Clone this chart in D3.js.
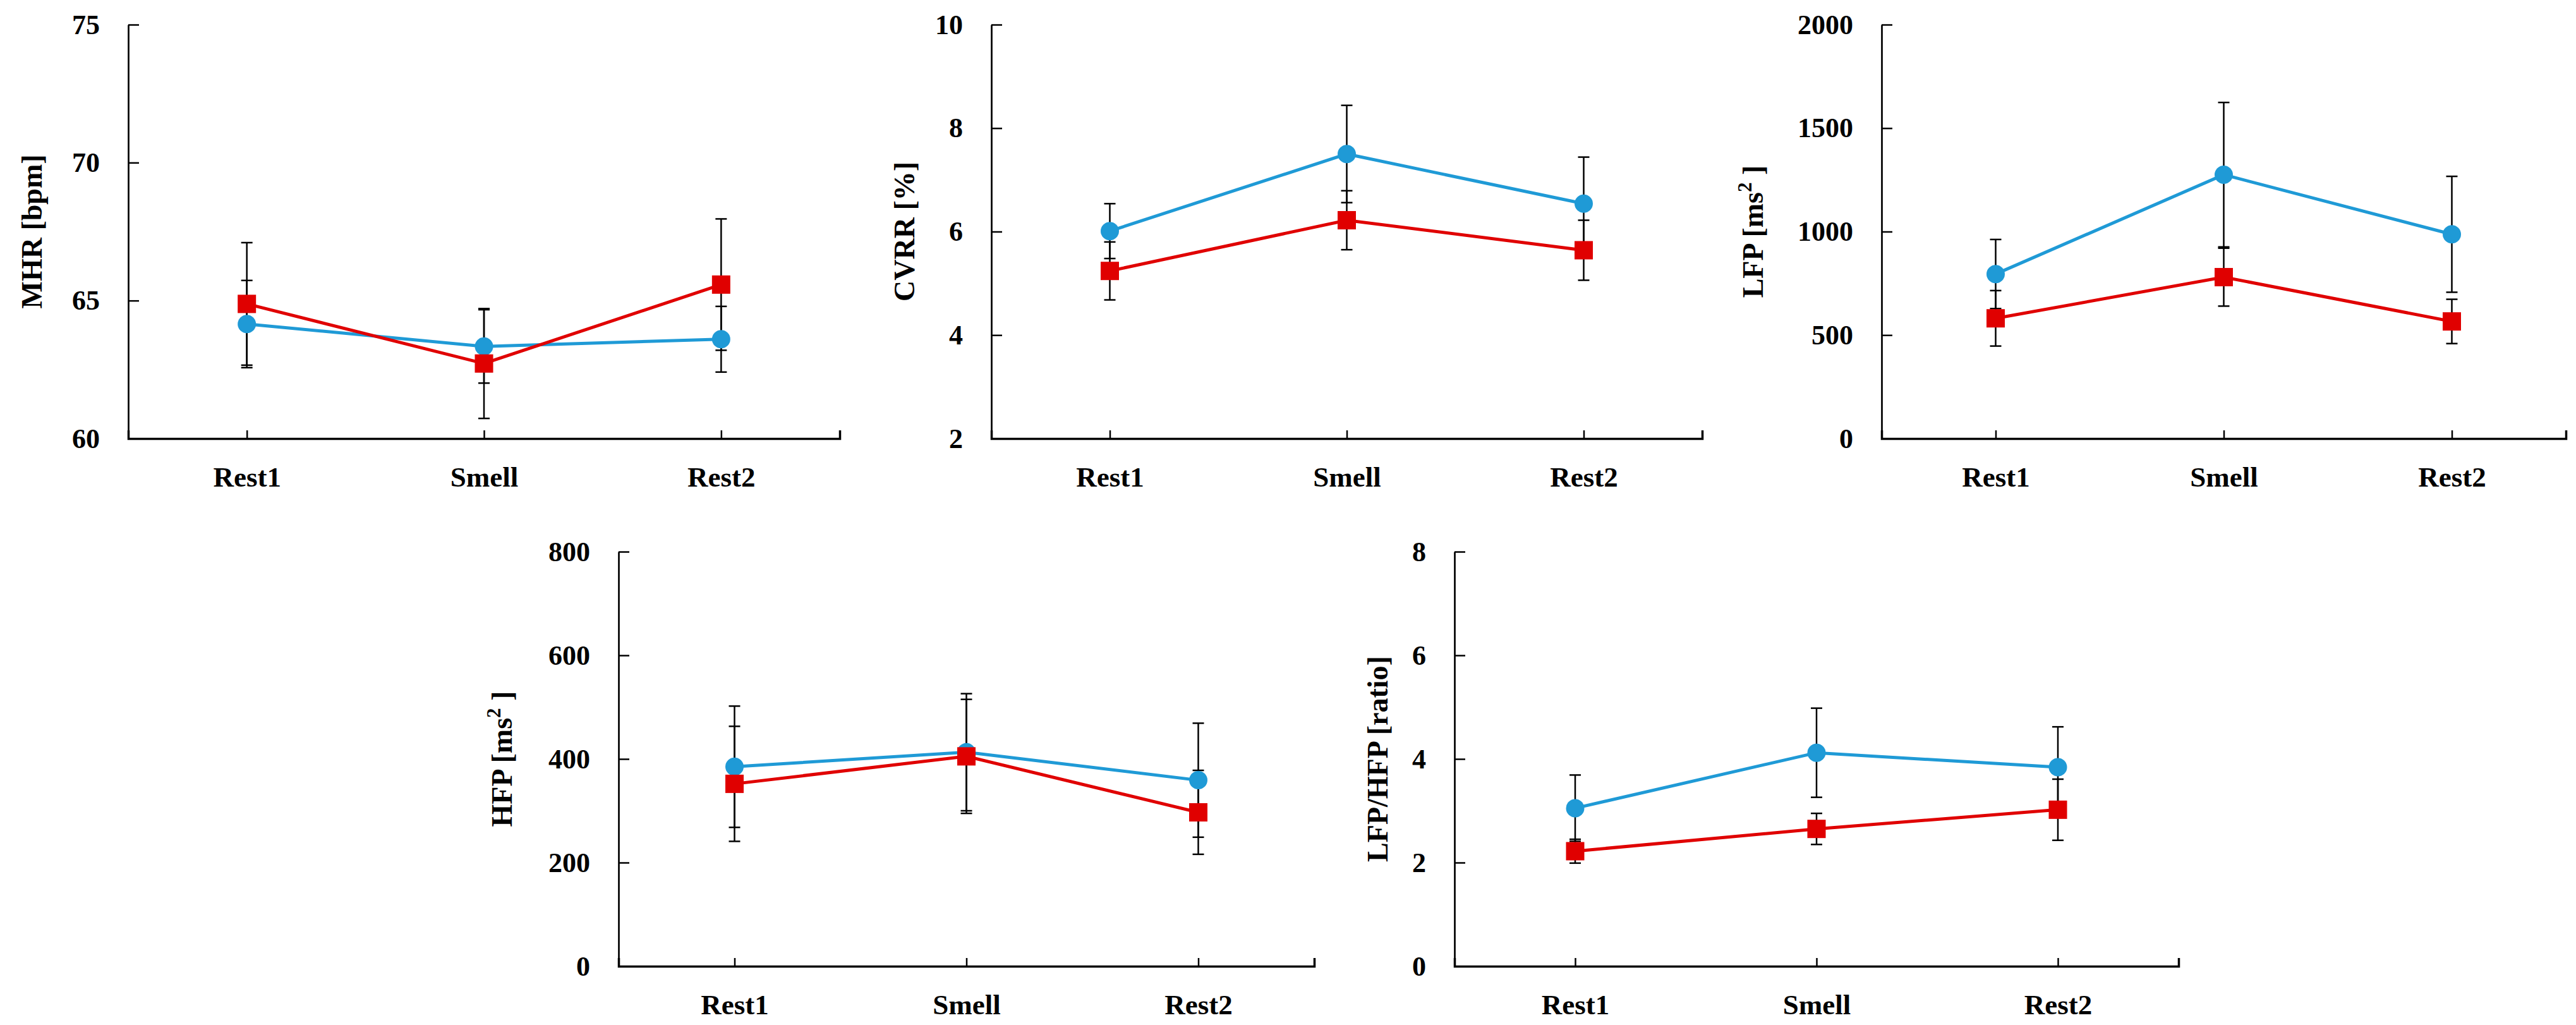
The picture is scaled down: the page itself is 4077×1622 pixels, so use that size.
<!DOCTYPE html>
<html>
<head>
<meta charset="utf-8">
<script src="https://cdn.jsdelivr.net/npm/d3@7"></script>
<style>
  body { margin: 0; background: #fff; }
  text { font-family: "Liberation Serif", "DejaVu Serif", serif; font-weight: bold; fill: #000; }
</style>
</head>
<body>
<div id="chart"></div>
<script>
// categories shared by every panel
var categories = ["Rest1", "Smell", "Rest2"];

// MHR [bpm]
var mhrBlue = [64.15, 63.34, 63.6];
var mhrBlueSd = [1.58, 1.33, 1.19];
var mhrRed = [64.88, 62.72, 65.58];
var mhrRedSd = [2.22, 1.99, 2.38];
var mhrTicks = [60, 65, 70, 75];

// CVRR [%]
var cvrrBlue = [6.01, 7.5, 6.54];
var cvrrBlueSd = [0.53, 0.94, 0.9];
var cvrrRed = [5.24, 6.22, 5.64];
var cvrrRedSd = [0.56, 0.57, 0.58];
var cvrrTicks = [2, 4, 6, 8, 10];

// LFP [ms2]
var lfpBlue = [795, 1275, 987];
var lfpBlueSd = [167, 349, 280];
var lfpRed = [581, 780, 566];
var lfpRedSd = [134, 140, 107];
var lfpTicks = [0, 500, 1000, 1500, 2000];

// HFP [ms2]
var hfpBlue = [385, 413, 359];
var hfpBlueSd = [117, 113, 110];
var hfpRed = [352, 405, 297];
var hfpRedSd = [111, 110, 81];
var hfpTicks = [0, 200, 400, 600, 800];

// LFP/HFP [ratio]
var ratioBlue = [3.05, 4.12, 3.84];
var ratioBlueSd = [0.64, 0.86, 0.78];
var ratioRed = [2.22, 2.65, 3.02];
var ratioRedSd = [0.23, 0.3, 0.59];
var ratioTicks = [0, 2, 4, 6, 8];

var BLUE = "#1f9ad6";
var RED = "#e00000";

var svg = d3.select("#chart").append("svg")
  .attr("width", 4077)
  .attr("height", 1622);

// layout of each panel (pixels)
var panels = [
  {title: "MHR [bpm]", sup: null, blue: mhrBlue, blueSd: mhrBlueSd, red: mhrRed, redSd: mhrRedSd,
   ticks: mhrTicks, left: 203, right: 1329, top: 39, bottom: 694, titleOff: 153},
  {title: "CVRR [%]", sup: null, blue: cvrrBlue, blueSd: cvrrBlueSd, red: cvrrRed, redSd: cvrrRedSd,
   ticks: cvrrTicks, left: 1569, right: 2694, top: 39, bottom: 694, titleOff: 138},
  {title: "LFP [ms", sup: "2", blue: lfpBlue, blueSd: lfpBlueSd, red: lfpRed, redSd: lfpRedSd,
   ticks: lfpTicks, left: 2978, right: 4061, top: 39, bottom: 694, titleOff: 204},
  {title: "HFP [ms", sup: "2", blue: hfpBlue, blueSd: hfpBlueSd, red: hfpRed, redSd: hfpRedSd,
   ticks: hfpTicks, left: 979, right: 2080, top: 873, bottom: 1529, titleOff: 185},
  {title: "LFP/HFP [ratio]", sup: null, blue: ratioBlue, blueSd: ratioBlueSd, red: ratioRed, redSd: ratioRedSd,
   ticks: ratioTicks, left: 2302, right: 3448, top: 873, bottom: 1529, titleOff: 122}
];

panels.forEach(function(p) {
  var x = d3.scalePoint().domain(categories).range([p.left, p.right]).padding(0.5);
  var y = d3.scaleLinear().domain(d3.extent(p.ticks)).range([p.bottom, p.top]);
  var g = svg.append("g");

  // y axis
  var yAxis = g.append("g")
    .attr("transform", "translate(" + p.left + ",0)")
    .call(d3.axisLeft(y).tickValues(p.ticks).tickFormat(d3.format("d"))
      .tickSizeInner(-17).tickSizeOuter(0).tickPadding(45));
  yAxis.select(".domain").attr("stroke-width", 2.7);
  yAxis.selectAll(".tick line").attr("stroke-width", 2.5);
  yAxis.selectAll("text").attr("font-size", 44).attr("font-family", null);

  // x axis
  var xAxis = g.append("g")
    .attr("transform", "translate(0," + p.bottom + ")")
    .call(d3.axisBottom(x).tickSizeInner(-13).tickSizeOuter(-13).tickPadding(44));
  xAxis.select(".domain").attr("stroke-width", 3.5);
  xAxis.selectAll(".tick line").attr("stroke-width", 2.5);
  xAxis.selectAll("text").attr("font-size", 45).attr("font-family", null);

  // y title
  var t = g.append("text")
    .attr("transform", "translate(" + (p.left - p.titleOff) + "," + ((p.top + p.bottom) / 2) + ") rotate(-90)")
    .attr("text-anchor", "middle")
    .attr("dy", "0.35em")
    .attr("font-size", 46);
  t.append("tspan").text(p.title);
  if (p.sup) {
    t.append("tspan").attr("font-size", 31).attr("dy", "-0.6em").text(p.sup);
    t.append("tspan").attr("font-size", 46).attr("dy", "0.4em").text(" ]");
  }

  var series = [
    {vals: p.blue, sd: p.blueSd, color: BLUE, shape: "circle"},
    {vals: p.red, sd: p.redSd, color: RED, shape: "square"}
  ];

  // error bars
  series.forEach(function(s) {
    var eb = g.append("g").attr("stroke", "#000").attr("stroke-width", 2.5);
    categories.forEach(function(c, i) {
      var hi = y(s.vals[i] + s.sd[i]), lo = y(s.vals[i] - s.sd[i]);
      eb.append("line").attr("x1", x(c)).attr("x2", x(c)).attr("y1", hi).attr("y2", lo);
      eb.append("line").attr("x1", x(c) - 9).attr("x2", x(c) + 9).attr("y1", hi).attr("y2", hi);
      eb.append("line").attr("x1", x(c) - 9).attr("x2", x(c) + 9).attr("y1", lo).attr("y2", lo);
    });
  });

  // lines
  series.forEach(function(s) {
    var line = d3.line()
      .x(function(d, i) { return x(categories[i]); })
      .y(function(d) { return y(d); });
    g.append("path")
      .datum(s.vals)
      .attr("d", line)
      .attr("fill", "none")
      .attr("stroke", s.color)
      .attr("stroke-width", 5);
  });

  // markers
  series.forEach(function(s) {
    categories.forEach(function(c, i) {
      if (s.shape === "circle") {
        g.append("circle")
          .attr("cx", x(c)).attr("cy", y(s.vals[i])).attr("r", 14.5)
          .attr("fill", s.color);
      } else {
        g.append("rect")
          .attr("x", x(c) - 14.5).attr("y", y(s.vals[i]) - 14.5)
          .attr("width", 29).attr("height", 29)
          .attr("fill", s.color);
      }
    });
  });
});
</script>
</body>
</html>
